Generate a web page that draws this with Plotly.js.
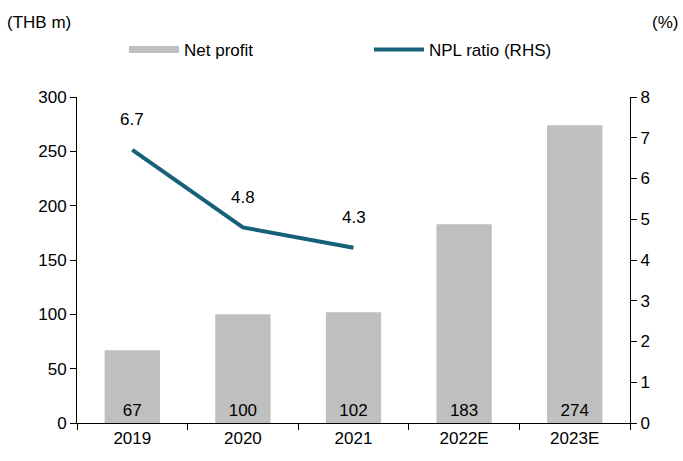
<!DOCTYPE html>
<html>
<head>
<meta charset="utf-8">
<script src="https://cdn.plot.ly/plotly-3.0.1.min.js"></script>
<style>
  body { margin: 0; background: #fff; }
  #chart { width: 683px; height: 461px; }
</style>
</head>
<body>
<div id="chart"></div>
<script>
const years = ['2019', '2020', '2021', '2022E', '2023E'];
const netProfit = [67, 100, 102, 183, 274];
const nplYears = ['2019', '2020', '2021'];
const nplRatio = [6.7, 4.8, 4.3];

const barGrey = '#bfbfbf';
const lineBlue = '#17607a';
const font = 'Liberation Sans, Arial, sans-serif';

const barTrace = {
  x: years,
  y: netProfit,
  type: 'bar',
  name: 'Net profit',
  showlegend: false,
  width: 0.5,
  marker: { color: barGrey },
  text: netProfit.map(String),
  textposition: 'inside',
  insidetextanchor: 'start',
  textangle: 0,
  textfont: { size: 17, color: '#000', family: font },
  hoverinfo: 'skip'
};

// legend entry for the bars: flat wide swatch like the original
const barLegend = {
  x: [null], y: [null],
  type: 'scatter', mode: 'lines',
  name: 'Net profit',
  line: { color: barGrey, width: 7 }
};

const lineTrace = {
  x: nplYears,
  y: nplRatio,
  type: 'scatter',
  mode: 'lines',
  name: 'NPL ratio (RHS)',
  yaxis: 'y2',
  line: { color: lineBlue, width: 4 }
};

// labels over the line points
const lineLabels = nplYears.map(( yr, i ) => ({
  x: years.indexOf(yr), y: nplRatio[i], yref: 'y2', xref: 'x',
  text: nplRatio[i].toFixed(1),
  showarrow: false, yshift: 30,
  font: { size: 17, color: '#000', family: font }
}));

const layout = {
  width: 683,
  height: 461,
  margin: { l: 77, r: 53, t: 97, b: 38 },
  paper_bgcolor: '#fff',
  plot_bgcolor: '#fff',
  font: { family: font, size: 17, color: '#000' },
  showlegend: true,
  legend: {
    orientation: 'h',
    x: 0.085, y: 1.144,
    xanchor: 'left', yanchor: 'middle',
    font: { size: 17 },
    entrywidth: 180,
    entrywidthmode: 'pixels',
    itemwidth: 50
  },
  xaxis: {
    type: 'category',
    categoryorder: 'array',
    categoryarray: years,
    range: [-0.5, years.length - 0.5],
    autorange: false,
    showline: true, linecolor: '#000', linewidth: 1,
    ticks: 'outside', ticklen: 6, tickcolor: '#000',
    tickson: 'boundaries',
    tickangle: 0,
    showgrid: false,
    tickfont: { size: 17 }
  },
  yaxis: {
    range: [0, 300], dtick: 50,
    showline: true, linecolor: '#000', linewidth: 1,
    ticks: 'outside', ticklen: 6, tickcolor: '#000',
    showgrid: false, zeroline: false,
    tickfont: { size: 17 }
  },
  yaxis2: {
    range: [0, 8], dtick: 1,
    overlaying: 'y', side: 'right',
    showline: true, linecolor: '#000', linewidth: 1,
    ticks: 'outside', ticklen: 6, tickcolor: '#000',
    showgrid: false, zeroline: false,
    tickfont: { size: 17 }
  },
  annotations: [
    { text: '(THB m)', xref: 'paper', yref: 'paper', x: -0.13, y: 1.23,
      xanchor: 'left', yanchor: 'middle', showarrow: false, font: { size: 17 } },
    { text: '(%)', xref: 'paper', yref: 'paper', x: 1.09, y: 1.23,
      xanchor: 'right', yanchor: 'middle', showarrow: false, font: { size: 17 } }
  ].concat(lineLabels)
};

Plotly.newPlot('chart', [barTrace, barLegend, lineTrace], layout, { displayModeBar: false, staticPlot: true });
</script>
</body>
</html>
